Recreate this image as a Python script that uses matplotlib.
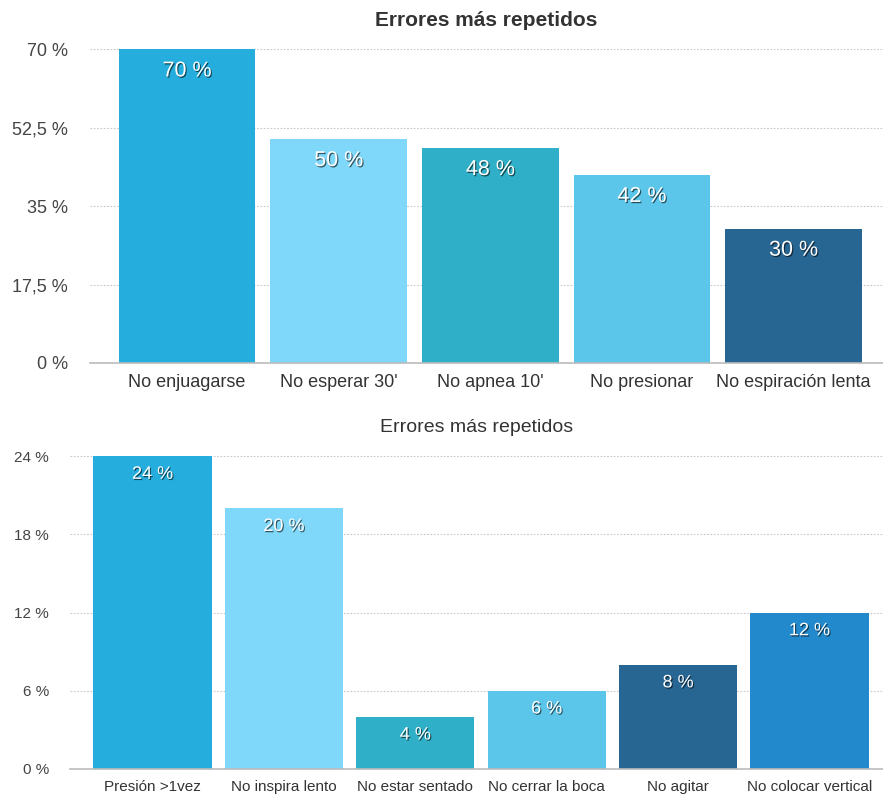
import matplotlib
matplotlib.use('Agg')
import matplotlib.pyplot as plt
import matplotlib.patheffects as pe

plt.rcParams['font.family'] = ['Liberation Sans', 'DejaVu Sans']

# top chart data
top_cats = ['No enjuagarse', "No esperar 30'", "No apnea 10'", 'No presionar', 'No espiración lenta']
top_vals = [70, 50, 48, 42, 30]
top_colors = ['#25aedd', '#7fd8f9', '#2fb0c8', '#5bc5ea', '#276592']
top_ticks = [0, 17.5, 35, 52.5, 70]

# bottom chart data
bot_cats = ['Presión >1vez', 'No inspira lento', 'No estar sentado', 'No cerrar la boca', 'No agitar', 'No colocar vertical']
bot_vals = [24, 20, 4, 6, 8, 12]
bot_colors = ['#25aedd', '#7fd8f9', '#2fb0c8', '#5bc5ea', '#276592', '#2289cc']
bot_ticks = [0, 6, 12, 18, 24]

title = 'Errores más repetidos'


def fmt(v):
    s = ('%g' % v).replace('.', ',')
    return s + ' %'


def draw(ax, cats, vals, colors, ticks, xlim, fs, lab_fs, title_fs, title_weight, pad_pts, ypad, tpad):
    x = list(range(len(cats)))
    ax.bar(x, vals, width=0.9, color=colors, zorder=3)
    ax.set_xlim(*xlim)
    ax.set_ylim(0, ticks[-1])
    ax.set_yticks(ticks)
    ax.set_yticklabels([fmt(t) for t in ticks], fontsize=fs[1], color='#444444')
    ax.set_xticks(x)
    ax.set_xticklabels(cats, fontsize=fs[0], color='#333333')
    ax.tick_params(length=0)
    ax.tick_params(axis='y', pad=ypad)
    ax.tick_params(axis='x', pad=8)
    for s in ['top', 'right', 'left']:
        ax.spines[s].set_visible(False)
    ax.spines['bottom'].set_color('#bbbbbb')
    ax.spines['bottom'].set_linewidth(1.2)
    ax.spines['bottom'].set_zorder(4)
    for t in ticks[1:]:
        ax.axhline(t, color='#c8c8c8', lw=0.8, ls=(0, (1.5, 1.5)), zorder=1)
    for xi, v in zip(x, vals):
        ax.annotate(fmt(v), (xi, v), xytext=(0, -pad_pts), textcoords='offset points',
                    ha='center', va='top', color='white', fontsize=lab_fs, zorder=5,
                    path_effects=[pe.withSimplePatchShadow(offset=(0.8, -0.9), shadow_rgbFace='black', alpha=0.6)])
    ax.set_title(title, fontsize=title_fs, color='#333333', fontweight=title_weight, pad=tpad)


fig = plt.figure(figsize=(8.83, 7.96), dpi=100)
ax1 = fig.add_axes([0.102, 0.544, 0.898, 0.394])
draw(ax1, top_cats, top_vals, top_colors, top_ticks, (-0.64, 4.59), (13, 13), 15.5, 15, 'bold', 8, 16, 17)
ax2 = fig.add_axes([0.079, 0.034, 0.921, 0.393])
draw(ax2, bot_cats, bot_vals, bot_colors, bot_ticks, (-0.63, 5.56), (11, 11), 13, 14, 'normal', 7, 15, 17)

fig.savefig('out.png', dpi=100)
